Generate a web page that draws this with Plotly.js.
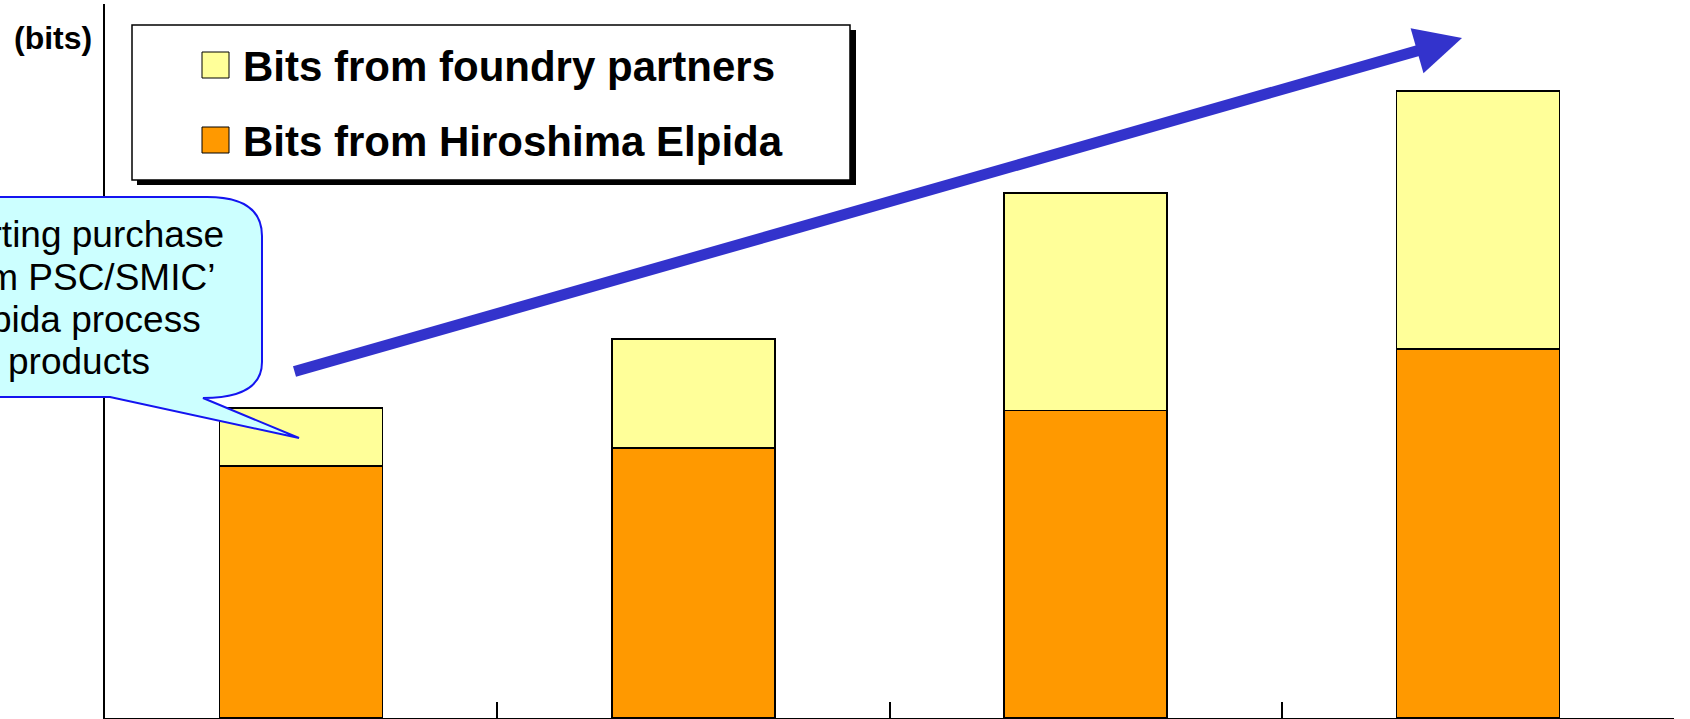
<!DOCTYPE html>
<html>
<head>
<meta charset="utf-8">
<script src="https://cdn.plot.ly/plotly-3.0.1.min.js"></script>
<style>
  html, body { margin: 0; padding: 0; background: #fff; }
  #chart { width: 1690px; height: 719px; }
</style>
</head>
<body>
<div id="chart"></div>
<script>
// bar positions (4 periods, no labels shown on the axis)
const periods = [0, 1, 2, 3];
// stacked values, arbitrary units (axis has no scale shown)
const hiroshimaBits = [35.3, 37.8, 43.1, 51.7];
const foundryBits = [8.1, 15.3, 30.4, 36.1];

const seriesNames = ['Bits from foundry partners', 'Bits from Hiroshima Elpida'];
const seriesColors = ['#FFFF99', '#FF9900'];
const calloutLines = ['Starting purchase', 'from PSC/SMIC\u2019', 'Elpida process', 'products'];

const FONT = 'Liberation Sans, Arial, sans-serif';

// plot frame in page pixels, used to place the decorations
const L = 105, R = 1674, T = 4, B = 718;
function px(x) { return (x - L) / (R - L); }
function py(y) { return (B - y) / (B - T); }

const barLine = { color: '#000', width: 1.5 };

const hiroTrace = {
    type: 'bar',
    x: periods,
    y: hiroshimaBits,
    name: seriesNames[1],
    width: 0.416,
    marker: { color: seriesColors[1], line: barLine },
    hoverinfo: 'none',
};

const foundryTrace = {
    type: 'bar',
    x: periods,
    y: foundryBits,
    name: seriesNames[0],
    width: 0.416,
    marker: { color: seriesColors[0], line: barLine },
    hoverinfo: 'none',
};

// hand drawn legend: shadow, box, swatches
let shapes = [
    { type: 'rect', xref: 'paper', yref: 'paper',
      x0: px(137), x1: px(856), y0: py(185), y1: py(30),
      fillcolor: '#000', line: { width: 0 } },
    { type: 'rect', xref: 'paper', yref: 'paper',
      x0: px(132), x1: px(850), y0: py(180), y1: py(25),
      fillcolor: '#fff', line: { color: '#000', width: 1.5 } },
];

let annotations = [];

seriesNames.forEach((name, i) => {
    shapes.push({
        type: 'rect', xref: 'paper', yref: 'paper',
        x0: px(202), x1: px(229), y0: py(78 + i * 75), y1: py(52 + i * 75),
        fillcolor: seriesColors[i], line: { color: '#000', width: 1 },
    });
    annotations.push({
        xref: 'paper', yref: 'paper', x: px(241), y: py(66 + i * 75),
        xanchor: 'left', yanchor: 'middle', showarrow: false,
        text: '<b>' + name + '</b>',
        font: { family: FONT, size: 42, color: '#000' },
    });
});

// speech bubble (runs off the left edge of the page)
function pt(x, y) { return px(x).toFixed(5) + ',' + py(y).toFixed(5); }
const bubblePath = 'M' + pt(-200, 197) + ' L' + pt(207, 197) +
    ' Q' + pt(262, 197) + ' ' + pt(262, 236) +
    ' L' + pt(262, 362) +
    ' Q' + pt(262, 398) + ' ' + pt(203, 398) +
    ' L' + pt(299, 438) +
    ' L' + pt(110, 397) +
    ' L' + pt(-200, 397) + ' Z';

shapes.push({
    type: 'path', xref: 'paper', yref: 'paper', path: bubblePath,
    fillcolor: '#CCFFFF', line: { color: '#1414F0', width: 2 },
});

calloutLines.forEach((line, i) => {
    annotations.push({
        xref: 'paper', yref: 'paper', x: px(79), y: py(235 + i * 42),
        xanchor: 'center', yanchor: 'middle', showarrow: false,
        text: line,
        font: { family: FONT, size: 37, color: '#000' },
    });
});

annotations.push({
    xref: 'paper', yref: 'paper', x: px(94), y: py(38),
    xanchor: 'right', yanchor: 'middle', showarrow: false,
    text: '<b>(bits)</b>',
    font: { family: FONT, size: 32, color: '#000' },
});

// growth arrow
annotations.push({
    xref: 'paper', yref: 'paper', x: px(1462), y: py(38),
    ax: -1169, ay: 334, text: '', showarrow: true,
    arrowcolor: '#3333CC', arrowwidth: 11, arrowhead: 2, arrowsize: 0.85,
    standoff: 0,
});

const layout = {
    width: 1690,
    height: 719,
    barmode: 'stack',
    showlegend: false,
    plot_bgcolor: '#fff',
    paper_bgcolor: '#fff',
    margin: { l: L, r: 1690 - R, t: T, b: 719 - B },
    xaxis: {
        range: [-0.5, 3.5],
        tickmode: 'linear', tick0: 0.5, dtick: 1,
        ticks: 'inside', ticklen: 16, tickwidth: 2, tickcolor: '#000',
        showticklabels: false,
        showline: true, linecolor: '#000', linewidth: 2,
        showgrid: false, zeroline: false, fixedrange: true,
    },
    yaxis: {
        range: [0, 100],
        showticklabels: false, ticks: '',
        showline: true, linecolor: '#000', linewidth: 2,
        showgrid: false, zeroline: false, fixedrange: true,
    },
    shapes: shapes,
    annotations: annotations,
    font: { family: FONT },
};

Plotly.newPlot('chart', [hiroTrace, foundryTrace], layout, { staticPlot: true, displayModeBar: false });
</script>
</body>
</html>
